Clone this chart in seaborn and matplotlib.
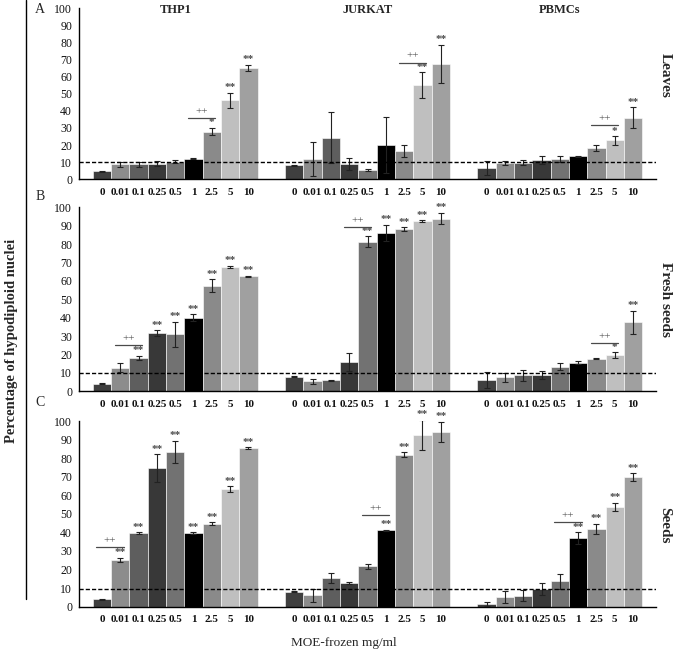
import matplotlib

matplotlib.use("Agg")

import matplotlib.pyplot as plt
import pandas as pd
import seaborn as sns
from matplotlib.lines import Line2D

CELLS = ["THP1", "JURKAT", "PBMCs"]
CONCS = ["0", "0.01", "0.1", "0.25", "0.5", "1", "2.5", "5", "10"]
CONC_COLORS = ["#3f3f3f", "#8c8c8c", "#5e5e5e", "#383838", "#727272",
               "#000000", "#8a8a8a", "#bfbfbf", "#a0a0a0"]
PANELS = ["Leaves", "Fresh seeds", "Seeds"]
PANEL_LETTERS = ["A", "B", "C"]

# means per cell line (THP1, JURKAT, PBMCs), one list per concentration series
leaves_means = [
    [4.6, 8.8, 8.8, 9.2, 10.3, 11.9, 27.9, 46.2, 65.1],
    [8.1, 11.8, 24.3, 8.8, 5.5, 19.9, 16.6, 55.2, 67.6],
    [6.6, 9.7, 9.7, 11.1, 11.9, 13.4, 18.1, 22.8, 36.1],
]
leaves_err = [
    [0.3, 1.5, 1.6, 1.5, 0.7, 0.3, 2.2, 4.5, 2.0],
    [0.3, 9.8, 15.0, 3.4, 0.5, 16.4, 3.3, 7.4, 11.0],
    [4.0, 1.2, 1.3, 2.3, 1.6, 0.3, 1.8, 2.5, 6.1],
]
fresh_means = [
    [4.2, 12.9, 18.1, 31.7, 31.0, 40.0, 57.4, 67.6, 62.5],
    [8.0, 5.4, 6.0, 15.9, 81.2, 86.2, 88.2, 92.4, 93.8],
    [6.2, 7.6, 8.7, 8.7, 13.4, 15.6, 17.6, 19.7, 37.5],
]
fresh_err = [
    [0.3, 2.3, 1.3, 1.4, 6.7, 1.9, 3.4, 0.5, 0.4],
    [0.3, 1.2, 0.3, 4.7, 3.0, 4.3, 1.0, 0.5, 3.1],
    [4.2, 2.4, 3.0, 2.2, 1.8, 1.0, 0.3, 1.4, 6.2],
]
seeds_means = [
    [4.1, 25.3, 39.5, 74.7, 83.3, 39.7, 44.7, 63.2, 85.5],
    [8.1, 6.1, 15.3, 12.7, 21.7, 41.1, 81.9, 92.6, 94.1],
    [1.4, 5.4, 5.9, 9.3, 13.6, 36.8, 41.8, 53.9, 69.7],
]
seeds_err = [
    [0.3, 1.0, 0.5, 7.3, 5.9, 0.3, 0.7, 1.6, 0.4],
    [0.3, 3.5, 2.6, 0.4, 1.2, 0.3, 1.3, 8.0, 5.4],
    [0.9, 3.2, 3.0, 3.2, 4.0, 3.2, 2.9, 2.2, 2.2],
]

# significance marks per bar
leaves_stars = [
    ["", "", "", "", "", "", "*", "**", "**"],
    ["", "", "", "", "", "", "", "**", "**"],
    ["", "", "", "", "", "", "", "*", "**"],
]
fresh_stars = [
    ["", "", "**", "**", "**", "**", "**", "**", "**"],
    ["", "", "", "", "**", "**", "**", "**", "**"],
    ["", "", "", "", "", "", "", "*", "**"],
]
seeds_stars = [
    ["", "**", "**", "**", "**", "**", "**", "**", "**"],
    ["", "", "", "", "", "**", "**", "**", "**"],
    ["", "", "", "", "", "**", "**", "**", "**"],
]
# "++" brackets: (cell index, first bar, last bar, height)
leaves_plus = [(0, 5, 6, 35.7), (1, 6, 7, 68.2), (2, 6, 7, 31.6)]
fresh_plus = [(0, 1, 2, 25.0), (1, 3, 4, 89.1), (2, 6, 7, 26.1)]
seeds_plus = [(0, 0, 1, 32.1), (1, 4, 5, 49.2), (2, 4, 5, 45.6)]

threshold = [10.0, 9.7, 9.7]

SERIF = ["Liberation Serif", "DejaVu Serif"]
MARK = "#4a4a4a"


def panel_frame(means, errs):
    rows = []
    for ci, cell in enumerate(CELLS):
        for ki, conc in enumerate(CONCS):
            rows.append({"cell": cell, "conc": conc,
                         "value": means[ci][ki], "err": errs[ci][ki]})
    return pd.DataFrame(rows)


def draw_panel(ax, means, errs, stars, plus, thr):
    df = panel_frame(means, errs)
    sns.barplot(data=df, x="cell", y="value", hue="conc", order=CELLS,
                hue_order=CONCS, palette=CONC_COLORS, width=9 / 10.5, gap=0,
                errorbar=None, edgecolor="white", linewidth=0.4,
                legend=False, ax=ax)

    bar_conts = list(ax.containers)
    centers = []
    for ki, cont in enumerate(bar_conts):
        for ci, patch in enumerate(cont.patches):
            x = patch.get_x() + patch.get_width() / 2
            h = patch.get_height()
            e = errs[ci][ki]
            centers.append((ci, ki, x, patch.get_width()))
            ax.errorbar(x, h, yerr=e, color="#222222", elinewidth=0.8,
                        capsize=2.4, capthick=0.8, zorder=4)
            if stars[ci][ki]:
                ax.text(x, h + e + 0.3, stars[ci][ki], ha="center",
                        va="bottom", fontsize=8, color=MARK,
                        family=SERIF, fontweight="bold")

    pos = {(ci, ki): (x, w) for ci, ki, x, w in centers}
    for ci, k0, k1, y in plus:
        x0, w = pos[(ci, k0)]
        x1, _ = pos[(ci, k1)]
        xa = x0 - 0.3 * w
        xb = x1 + 0.2 * w
        ax.plot([xa, xb], [y, y], color=MARK, lw=0.9, zorder=4)
        ax.text((xa + xb) / 2, y + 1.2, "++", ha="center", va="bottom",
                fontsize=8, color=MARK, family=SERIF)

    ax.axhline(thr, color="black", lw=1.0, ls=(0, (3, 1.5)), zorder=5)

    ax.set_xlim(-0.5, 2.5)
    ax.set_ylim(0, 100)
    ax.set_yticks(range(0, 101, 10))
    ax.set_yticklabels([str(v) for v in range(0, 101, 10)],
                       family=SERIF, fontsize=8.5, color="#111111")
    xs = sorted(x for x, _ in pos.values())
    ax.set_xticks(xs)
    ax.set_xticklabels(CONCS * 3, family=SERIF, fontsize=8,
                       fontweight="bold", color="#111111")
    ax.set_xticks([-0.5, 0.5, 1.5, 2.5], minor=True)
    ax.tick_params(axis="x", which="major", length=0, pad=6)
    ax.tick_params(axis="x", which="minor", length=4, width=1.0,
                   direction="out", color="black")
    ax.tick_params(axis="y", length=3, width=0.9, direction="out", pad=2)
    ax.set_xlabel("")
    ax.set_ylabel("")
    ax.grid(False)
    for side in ["top", "right"]:
        ax.spines[side].set_visible(False)
    for side in ["left", "bottom"]:
        ax.spines[side].set_color("black")
        ax.spines[side].set_linewidth(1.0)


def main():
    sns.set_theme(style="white")
    plt.rcParams["font.family"] = SERIF

    fig = plt.figure(figsize=(6.77, 6.52), dpi=100)
    W, H = 677, 652
    boxes = [(8.3, 179.3), (207.3, 391.3), (421.0, 606.7)]
    data = [
        (leaves_means, leaves_err, leaves_stars, leaves_plus),
        (fresh_means, fresh_err, fresh_stars, fresh_plus),
        (seeds_means, seeds_err, seeds_stars, seeds_plus),
    ]
    left, right = 79, 656
    for i, (top, bottom) in enumerate(boxes):
        ax = fig.add_axes([left / W, 1 - bottom / H, (right - left) / W,
                           (bottom - top) / H])
        means, errs, stars, plus = data[i]
        draw_panel(ax, means, errs, stars, plus, threshold[i])

    # panel letters and row labels
    letter_y = [9.3, 196.0, 403.0]
    for letter, y in zip(PANEL_LETTERS, letter_y):
        fig.text(40 / W, 1 - y / H, letter, ha="center", va="center",
                 fontsize=10, family=SERIF)
    row_y = [75, 300, 525]
    for name, y in zip(PANELS, row_y):
        fig.text(665 / W, 1 - y / H, name, ha="center", va="center",
                 rotation=-90, fontsize=11, fontweight="bold",
                 family=SERIF)
    title_x = [176, 368, 560]
    for name, x in zip(CELLS, title_x):
        fig.text(x / W, 1 - 10 / H, name, ha="center", va="center",
                 fontsize=9, fontweight="bold", family=SERIF)

    fig.text(12 / W, 1 - 341 / H, "Percentage of hypodiploid nuclei",
             ha="center", va="center", rotation=90, fontsize=10.5,
             fontweight="bold", family=SERIF)
    fig.text(344 / W, 1 - 643 / H, "MOE-frozen mg/ml", ha="center",
             va="center", fontsize=9.5, family=SERIF)
    fig.add_artist(Line2D([26.5 / W, 26.5 / W], [1.0, 1 - 599 / H],
                          color="black", lw=1.0))

    fig.savefig("out.png", dpi=100)
    plt.close(fig)


if __name__ == "__main__":
    main()
